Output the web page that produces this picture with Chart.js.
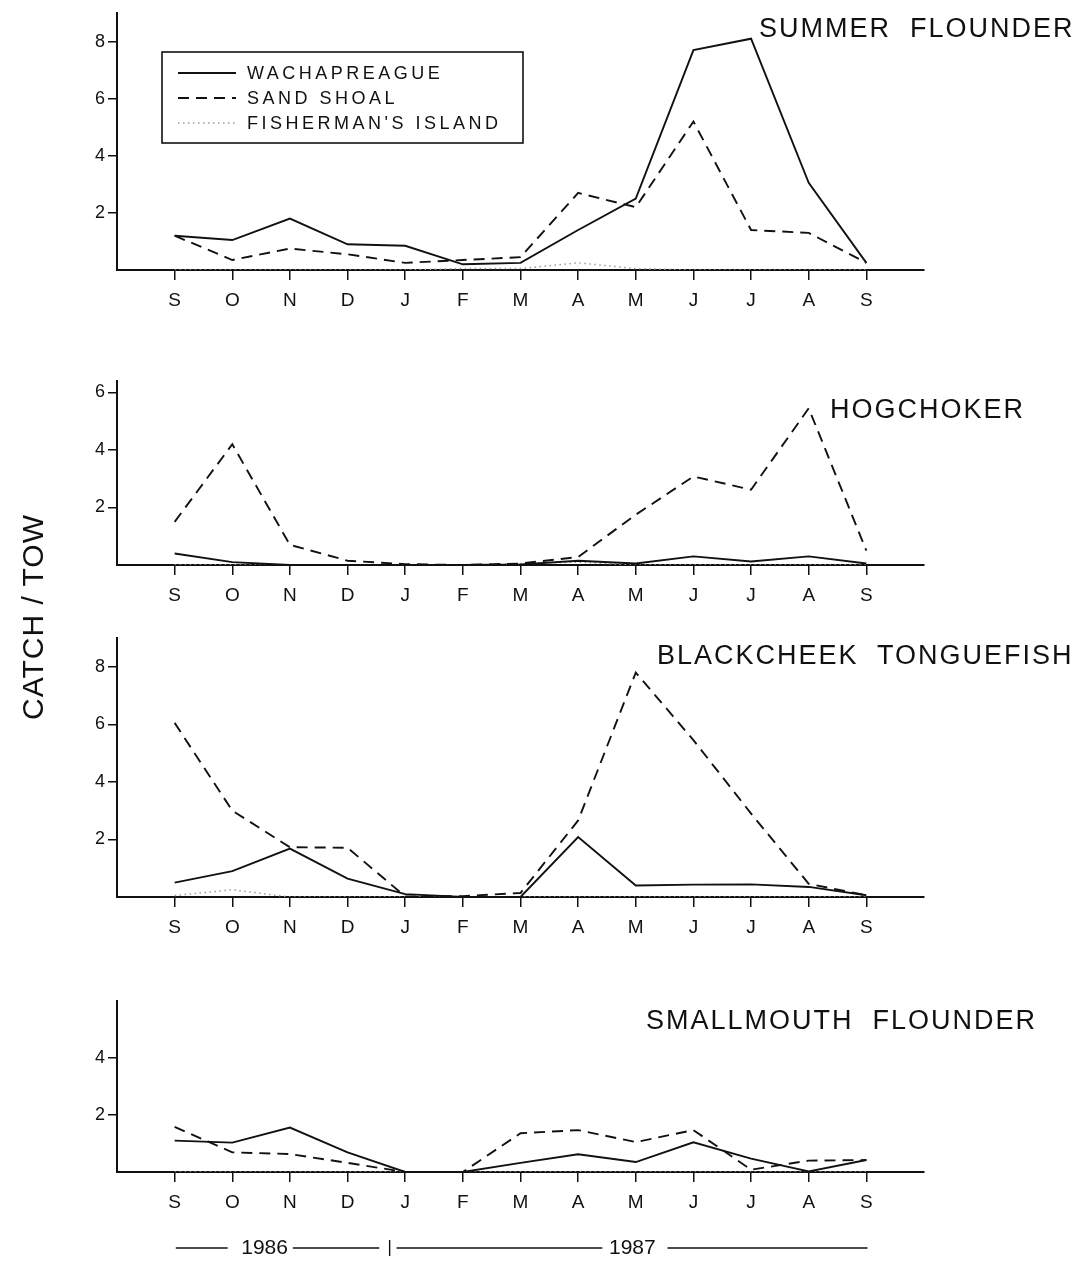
<!DOCTYPE html>
<html>
<head>
<meta charset="utf-8">
<script src="https://cdn.jsdelivr.net/npm/chart.js@4.4.1/dist/chart.umd.min.js"></script>
<style>
  body { margin: 0; background: #fff; width: 1083px; height: 1262px; position: relative; overflow: hidden;
         font-family: "Liberation Sans", Arial, sans-serif; color: #111; }
  canvas { position: absolute; left: 0; }
  .title { position: absolute; font-size: 27px; letter-spacing: 2px; white-space: pre; line-height: 1; }
  #ylab { position: absolute; left: -117px; top: 601px; width: 300px; text-align: center; font-size: 30px;
          letter-spacing: 1px; white-space: pre; line-height: 32px; transform: rotate(-90deg); }
</style>
</head>
<body>
<canvas id="c1" width="1083" height="321" style="top:-1px"></canvas>
<canvas id="c2" width="1083" height="254" style="top:361px"></canvas>
<canvas id="c3" width="1083" height="329" style="top:618px"></canvas>
<canvas id="c4" width="1083" height="286" style="top:981px"></canvas>

<div class="title" style="left:759px;top:15px">SUMMER  FLOUNDER</div>
<div class="title" style="left:830px;top:396px">HOGCHOKER</div>
<div class="title" style="left:657px;top:642px">BLACKCHEEK  TONGUEFISH</div>
<div class="title" style="left:646px;top:1007px">SMALLMOUTH  FLOUNDER</div>
<div id="ylab">CATCH / TOW</div>

<script>
const months = ["S", "O", "N", "D", "J", "F", "M", "A", "M", "J", "J", "A", "S"];
const stations = ["WACHAPREAGUE", "SAND SHOAL", "FISHERMAN'S ISLAND"];

// summer flounder
const summerWach = [1.2, 1.05, 1.8, 0.9, 0.85, 0.2, 0.25, 1.4, 2.5, 7.7, 8.1, 3.05, 0.25];
const summerSand = [1.2, 0.35, 0.75, 0.55, 0.25, 0.35, 0.45, 2.7, 2.2, 5.2, 1.4, 1.3, 0.25];
const summerFish = [0, 0, 0, 0, 0, 0.05, 0.05, 0.25, 0.05, 0, 0, 0, 0];
const summerTicks = [2, 4, 6, 8];

// hogchoker
const hogWach = [0.4, 0.1, 0, 0, 0, 0, 0.02, 0.15, 0.05, 0.3, 0.12, 0.3, 0.05];
const hogSand = [1.5, 4.2, 0.7, 0.15, 0.03, 0, 0.05, 0.28, 1.75, 3.08, 2.62, 5.45, 0.5];
const hogFish = [0, 0, 0, 0, 0, 0, 0.05, 0.1, 0, 0, 0, 0, 0];
const hogTicks = [2, 4, 6];

// blackcheek tonguefish
const tongueWach = [0.5, 0.9, 1.68, 0.64, 0.1, 0, 0, 2.08, 0.4, 0.43, 0.44, 0.35, 0.06];
const tongueSand = [6.05, 3.0, 1.73, 1.71, 0.02, 0.03, 0.14, 2.66, 7.8, 5.45, 2.9, 0.46, 0.06];
const tongueFish = [0.05, 0.25, 0, 0, 0, 0, 0, 0, 0, 0, 0, 0, 0];
const tongueTicks = [2, 4, 6, 8];

// smallmouth flounder
const smallWach = [1.1, 1.03, 1.56, 0.69, 0, 0, 0.32, 0.62, 0.35, 1.04, 0.47, 0.02, 0.42];
const smallSand = [1.58, 0.69, 0.63, 0.32, 0, 0, 1.36, 1.47, 1.05, 1.47, 0.08, 0.4, 0.42];
const smallFish = [0, 0, 0, 0, 0, 0, 0, 0, 0, 0, 0, 0, 0];
const smallTicks = [2, 4];

const FONT = "'Liberation Sans', Arial, sans-serif";
const INK = "#111";

function lineSets(wach, sand, fish) {
  return [
    { label: stations[0], data: wach, borderColor: INK, borderWidth: 1.9, borderDash: [] },
    { label: stations[1], data: sand, borderColor: INK, borderWidth: 1.9, borderDash: [11, 7] },
    { label: stations[2], data: fish, borderColor: "#9a9a9a", borderWidth: 1.5, borderDash: [1.5, 3.5] },
  ];
}

// legend box inside the top panel
const legendBox = {
  id: "legendBox",
  afterDraw(chart) {
    const ctx = chart.ctx;
    const top = -1;
    ctx.save();
    ctx.strokeStyle = INK;
    ctx.lineWidth = 1.6;
    ctx.strokeRect(162, 52 - top, 361, 91);
    ctx.font = "18px " + FONT;
    ctx.letterSpacing = "3.5px";
    ctx.textBaseline = "middle";
    chart.data.datasets.forEach((ds, i) => {
      const y = 73 + 25 * i - top;
      ctx.strokeStyle = ds.borderColor;
      ctx.lineWidth = ds.borderWidth;
      ctx.setLineDash(ds.borderDash);
      ctx.beginPath();
      ctx.moveTo(178, y);
      ctx.lineTo(236, y);
      ctx.stroke();
      ctx.fillStyle = INK;
      ctx.fillText(ds.label, 247, y + 1);
    });
    ctx.restore();
  }
};

// 1986 | 1987 line under the last panel
const yearLine = {
  id: "yearLine",
  afterDraw(chart) {
    const ctx = chart.ctx;
    const x = chart.scales.x;
    const y = 267;
    const px = v => x.getPixelForValue(v);
    ctx.save();
    ctx.strokeStyle = INK;
    ctx.fillStyle = INK;
    ctx.lineWidth = 1.4;
    ctx.font = "21px " + FONT;
    ctx.textAlign = "center";
    ctx.textBaseline = "middle";
    const seg = (a, b) => { ctx.beginPath(); ctx.moveTo(a, y); ctx.lineTo(b, y); ctx.stroke(); };
    seg(px(0.02), px(0.92));
    ctx.fillText("1986", px(1.56), y);
    seg(px(2.05), px(3.55));
    ctx.beginPath(); ctx.moveTo(px(3.73), y - 8); ctx.lineTo(px(3.73), y + 8); ctx.stroke();
    seg(px(3.85), px(7.42));
    ctx.fillText("1987", px(7.94), y);
    seg(px(8.55), px(12.02));
    ctx.restore();
  }
};

function makePanel(id, wach, sand, fish, yTicks, yMax, padTop, padBottom, plugins) {
  return new Chart(document.getElementById(id), {
    type: "line",
    data: { labels: months.map((m, i) => i), datasets: lineSets(wach, sand, fish) },
    options: {
      responsive: false,
      animation: false,
      elements: { point: { radius: 0 }, line: { tension: 0 } },
      layout: { padding: { top: padTop, right: 159, bottom: padBottom, left: 0 } },
      plugins: { legend: { display: false }, tooltip: { enabled: false } },
      scales: {
        x: {
          type: "linear", min: -1, max: 13,
          afterBuildTicks: s => { s.ticks = months.map((m, i) => ({ value: i })); },
          afterFit: s => { s.height = 50; },
          ticks: { callback: v => months[v], color: INK, font: { size: 19, family: FONT }, padding: 9,
                   maxRotation: 0, autoSkip: false },
          grid: { drawOnChartArea: false, tickLength: 10, color: INK, lineWidth: 1.5 },
          border: { color: INK, width: 2 }
        },
        y: {
          min: 0, max: yMax,
          afterBuildTicks: s => { s.ticks = yTicks.map(v => ({ value: v })); },
          afterFit: s => { s.width = 117; },
          ticks: { color: INK, font: { size: 18, family: FONT }, padding: 3 },
          grid: { drawOnChartArea: false, tickLength: 9, color: INK, lineWidth: 1.5 },
          border: { color: INK, width: 2 }
        }
      }
    },
    plugins: plugins
  });
}

makePanel("c1", summerWach, summerSand, summerFish, summerTicks, 9, 14, 0, [legendBox]);
makePanel("c2", hogWach, hogSand, hogFish, hogTicks, 6.4, 20, 0, []);
makePanel("c3", tongueWach, tongueSand, tongueFish, tongueTicks, 9, 20, 0, []);
makePanel("c4", smallWach, smallSand, smallFish, smallTicks, 6, 20, 45, [yearLine]);
</script>
</body>
</html>
